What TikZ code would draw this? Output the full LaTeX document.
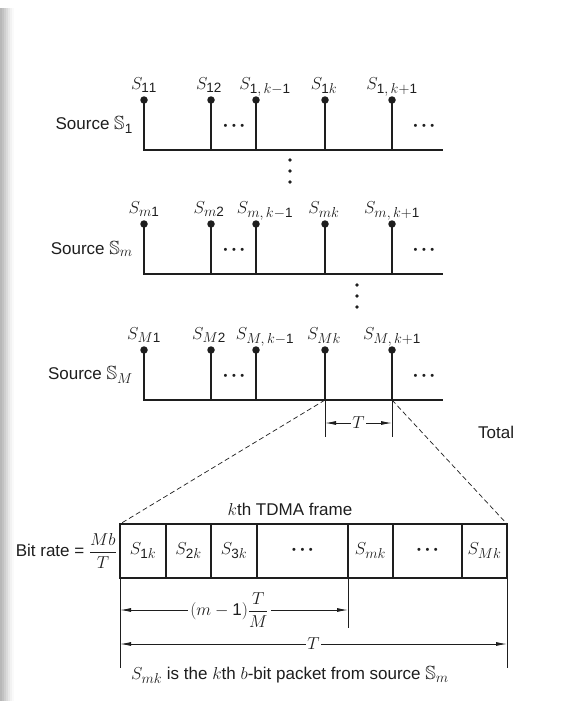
\documentclass[tikz,border=0pt]{standalone}
\usepackage{amsmath}
\usepackage{amssymb}
\usepackage{fontspec}
\setmainfont{Liberation Sans}
\DeclareMathSizes{17}{19}{13.5}{10}
\usetikzlibrary{positioning, arrows.meta, calc}
\definecolor{ink}{RGB}{30, 30, 30}
\newcommand{\dotgap}{{\fontsize{11}{11}\selectfont\textbullet\hspace{4.5pt}\textbullet\hspace{4.5pt}\textbullet}}

\begin{document}
\begin{tikzpicture}[
        x=1pt, y=-1pt,
        font=\fontsize{17}{20}\selectfont,
        stem/.style={line width=2.4pt, draw=ink},
        track/.style={line width=1.9pt, draw=ink, line join=miter},
        pin/.style={circle, fill=ink, inner sep=0pt, minimum size=7.5pt},
        lbl/.style={inner sep=0pt, text=ink},
        cell/.style={draw=ink, line width=1.1pt, minimum height=54pt, inner sep=0pt, outer sep=0pt, text=ink},
        dimarrow/.style={{Latex[length=11pt,width=4pt]}-{Latex[length=11pt,width=4pt]}, line width=0.9pt, ink},
        ext/.style={line width=0.9pt, ink},
        zoomline/.style={dash pattern=on 5pt off 3pt, line width=0.7pt, ink}
    ]
        % page and scan shadow
        \useasboundingbox (0,0) rectangle (574,701);
        \fill[white] (0,0) rectangle (574,701);
        \foreach \xs/\tone in {0/28, 2/24, 4/19, 6/14, 8/9, 10/5, 12/2}
            \fill[black!\tone] (\xs,8) rectangle (\xs+2,701);

        % the three sources
        \foreach \g/\yb/\sv in {1/150/\text{1}, m/274/m, M/400/M} {
            \coordinate (start\g) at (144,\yb);
            \coordinate (end\g) at (443,\yb);
            \node[pin] (pin\g a) at (144,\yb-50) {};
            \node[pin] (pin\g b) at (211,\yb-50) {};
            \node[pin] (pin\g c) at (256,\yb-50) {};
            \node[pin] (pin\g d) at (325,\yb-50) {};
            \node[pin] (pin\g e) at (392,\yb-50) {};
            \node[lbl, anchor=base] (sym\g a) at ([yshift=11pt]pin\g a) {$S_{\sv\text{1}}$};
            \node[lbl, anchor=base] (sym\g b) at ([xshift=-2pt, yshift=11pt]pin\g b) {$S_{\sv\text{2}}$};
            \node[lbl, anchor=base] (sym\g c) at ([xshift=9pt, yshift=11pt]pin\g c) {$S_{\sv,\,k-\text{1}}$};
            \node[lbl, anchor=base] (sym\g d) at ([xshift=-1pt, yshift=11pt]pin\g d) {$S_{\sv k}$};
            \node[lbl, anchor=base] (sym\g e) at ([yshift=11pt]pin\g e) {$S_{\sv,\,k+\text{1}}$};
            \node[lbl, anchor=east] (src\g) at (133,\yb-25) {Source $\mathbb{S}_{\sv}$};
            \node[lbl] (gapa\g) at (234,\yb-23) {\dotgap};
            \node[lbl] (gapb\g) at (424,\yb-23) {\dotgap};
        }

        % stems and time axes
        \foreach \g in {1, m, M} {
            \draw[track] (pin\g a.center) |- (end\g);
            \draw[stem] (pin\g a.center) -- (start\g);
            \foreach \n in {b, c, d, e}
                \draw[stem] (pin\g\n.center) -- (pin\g\n.center |- start\g);
        }

        % vertical dots between sources
        \foreach \yy in {160,171,182} \fill[ink] (290,\yy) circle (1.8pt);
        \foreach \yy in {285,296,307} \fill[ink] (357,\yy) circle (1.8pt);

        % frame period T
        \coordinate (footMd) at (325,400);
        \coordinate (footMe) at (392,400);
        \coordinate (tickL) at (325,437);
        \coordinate (tickR) at (392,437);
        \draw[ext] (footMd) -- (tickL);
        \draw[ext] (footMe) -- (tickR);
        \coordinate (ta) at (325,423);
        \coordinate (tb) at (392,423);
        \draw[dimarrow] (ta) -- node[fill=white, inner sep=1pt, text=ink] (tlab) {$T$} (tb);

        \node[lbl, anchor=west] (total) at (478,432) {Total};

        % kth TDMA frame
        \node[cell, minimum width=46pt] (c1) at (143,551) {$S_{\text{1}k}$};
        \node[cell, minimum width=45pt, right=0pt of c1] (c2) {$S_{\text{2}k}$};
        \node[cell, minimum width=46pt, right=0pt of c2] (c3) {$S_{\text{3}k}$};
        \node[cell, minimum width=91pt, right=0pt of c3] (c4) {\dotgap};
        \node[cell, minimum width=45pt, right=0pt of c4] (c5) {$S_{mk}$};
        \node[cell, minimum width=69pt, right=0pt of c5] (c6) {\dotgap};
        \node[cell, minimum width=45pt, right=0pt of c6] (c7) {$S_{Mk}$};

        \node[lbl, anchor=base] (ftitle) at (290,515) {$k$th TDMA frame};
        \node[lbl, anchor=east] (rate) at ([xshift=-3pt]c1.west) {Bit rate = $\dfrac{Mb}{T}$};

        \draw[zoomline] (footMd) -- (c1.north west);
        \draw[zoomline] (footMe) -- (c7.north east);

        % slot offset and frame length
        \coordinate (e1) at (120,668);
        \coordinate (e2) at (348,628);
        \coordinate (e3) at (507,668);
        \draw[ext] (c1.south west) -- (e1);
        \draw[ext] (c5.south west) -- (e2);
        \draw[ext] (c7.south east) -- (e3);

        \coordinate (d1a) at (120,610);
        \coordinate (d1b) at (348,610);
        \draw[dimarrow] (d1a) -- node[pos=0.48, fill=white, inner sep=2pt, text=ink] (offlab) {$(m-\text{1})\dfrac{T}{M}$} (d1b);

        \coordinate (d2a) at (120,644);
        \coordinate (d2b) at (507,644);
        \draw[dimarrow] (d2a) -- node[fill=white, inner sep=1pt, text=ink] (framelab) {$T$} (d2b);

        \node[lbl] (note) at (290,675) {$S_{mk}$ is the $k$th $b$-bit packet from source $\mathbb{S}_m$};
    \end{tikzpicture}
\end{document}
